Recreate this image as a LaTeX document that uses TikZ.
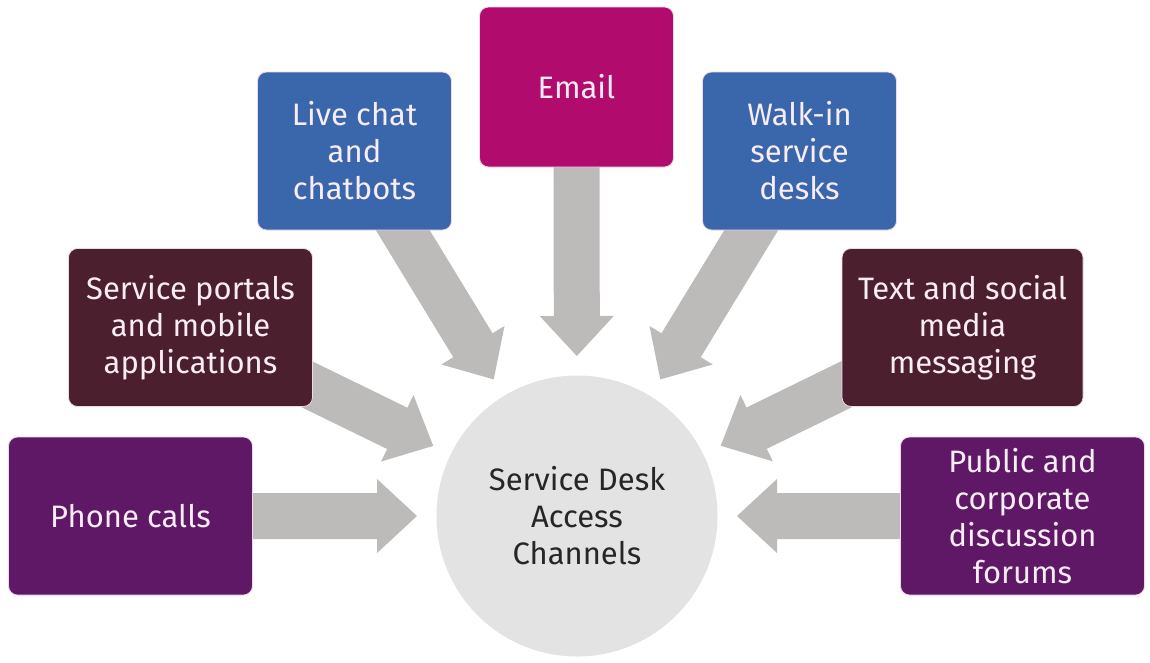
\documentclass[tikz,border=0pt]{standalone}
\usepackage{fontspec}
\setmainfont{Fira Sans}
\usetikzlibrary{calc,backgrounds}
\definecolor{cblue}{HTML}{3A67AC}
\definecolor{cmagenta}{HTML}{B20B6E}
\definecolor{cmaroon}{HTML}{4C1F2F}
\definecolor{cpurple}{HTML}{5E1866}
\definecolor{carrow}{HTML}{BDBABA}
\definecolor{chub}{HTML}{E3E3E3}
\definecolor{ctext}{HTML}{F8ECF5}
\definecolor{cedge}{HTML}{F0D8EC}
\tikzset{
  chanbox/.style={rectangle, rounded corners=9pt, draw=cedge, line width=0.8pt,
    text=ctext, align=center, inner sep=0pt,
    font=\fontsize{31}{37}\selectfont},
  narrowbox/.style={chanbox, minimum width=194pt, minimum height=158pt},
  widebox/.style={chanbox, minimum width=244pt, minimum height=158pt},
  hubnode/.style={circle, fill=chub, minimum size=281pt, inner sep=0pt,
    text=black!85, align=center, font=\fontsize{31}{37}\selectfont},
  arrowfill/.style={fill=carrow}
}
\newcommand\chanarrow[1]{%
  \coordinate (T#1) at ($(hub.center)!160pt!(#1.center)$);
  \coordinate (H#1) at ($(T#1)!40pt!(#1.center)$);
  \fill[arrowfill] ($(#1.center)!23pt!90:(T#1)$) -- ($(H#1)!23pt!90:(T#1)$)
    -- ($(H#1)!37pt!90:(T#1)$) -- (T#1) -- ($(H#1)!37pt!-90:(T#1)$)
    -- ($(H#1)!23pt!-90:(T#1)$) -- ($(#1.center)!23pt!-90:(T#1)$) -- cycle;
}
\begin{document}
\begin{tikzpicture}[x=1pt,y=-1pt]
\useasboundingbox (0,0) rectangle (1150,662);
\node[hubnode] (hub) at (577,516) {Service Desk\\Access\\Channels};
\node[widebox, fill=cpurple] (phone) at (130.5,516) {Phone calls};
\node[widebox, fill=cmaroon] (portals) at (190.5,327.5) {Service portals\\and mobile\\applications};
\node[narrowbox, fill=cblue] (chat) at (354.5,151) {Live chat\\and\\chatbots};
\node[narrowbox, fill=cmagenta, minimum height=160pt] (email) at (576.5,87) {Email};
\node[narrowbox, fill=cblue] (walkin) at (799.5,151) {Walk-in\\service\\desks};
\node[widebox, fill=cmaroon, minimum width=241pt] (social) at (962.5,327.5) {Text and social\\media\\messaging};
\node[widebox, fill=cpurple] (forums) at (1022.5,516) {Public and\\corporate\\discussion\\forums};
\begin{scope}[on background layer]
\chanarrow{phone}
\chanarrow{portals}
\chanarrow{chat}
\chanarrow{email}
\chanarrow{walkin}
\chanarrow{social}
\chanarrow{forums}
\end{scope}
\end{tikzpicture}
\end{document}
